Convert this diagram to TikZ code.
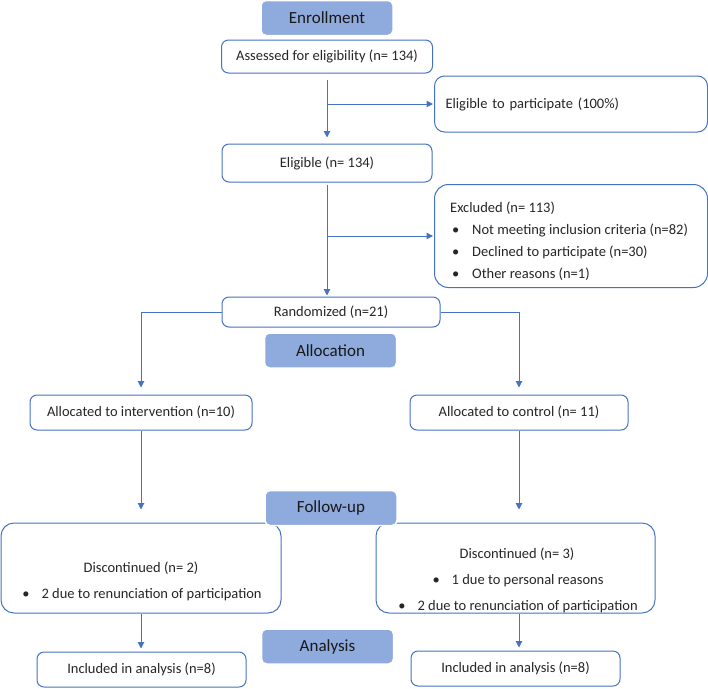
\documentclass[tikz,border=0pt]{standalone}
\usepackage{fontspec}
\setmainfont{Carlito}
\usetikzlibrary{arrows.meta,calc}
\definecolor{ln}{HTML}{4472C4}
\definecolor{hd}{HTML}{8FAADC}
\definecolor{tx}{HTML}{262626}
\begin{document}
\begin{tikzpicture}[x=1pt,y=-1pt,
  box/.style={draw=ln, line width=1pt, rounded corners=7pt, fill=white, text=tx,
    font=\fontsize{14.5}{22}\selectfont, inner sep=0pt},
  txt/.style={text=tx, font=\fontsize{14.5}{22}\selectfont, inner sep=0pt},
  head/.style={fill=hd, draw=white, line width=1.5pt, rounded corners=5pt, text=black!90,
    font=\fontsize{17}{20}\selectfont, minimum width=132pt, minimum height=35pt, inner sep=0pt},
  arr/.style={draw=ln, line width=1pt, -{Triangle[width=6.5pt,length=6.5pt]}}]
\useasboundingbox (0,0) rectangle (708,688);
% enrollment
\node[head] (enr) at (327,18) {Enrollment};
\node[box, minimum width=211pt, minimum height=33pt] (ass) at (327,56.5) {Assessed for eligibility (n= 134)};
\node[box, anchor=west, minimum height=56pt, text width=251pt, inner xsep=11pt, align=left, rounded corners=10pt] (elp) at (434,104) {Eligible to participate (100\%)};
\node[box, minimum width=210pt, minimum height=38pt] (elg) at (327,163) {Eligible (n= 134)};
\node[box, anchor=north west, minimum width=273pt, minimum height=103pt, rounded corners=14pt] (exc) at (434,184) {};
\node[txt, anchor=west, align=left] (exct) at ($(exc.west)+(16,5)$) {Excluded (n= 113)\\
  \makebox[22pt][l]{\hspace{2pt}•}Not meeting inclusion criteria (n=82)\\
  \makebox[22pt][l]{\hspace{2pt}•}Declined to participate (n=30)\\
  \makebox[22pt][l]{\hspace{2pt}•}Other reasons (n=1)};
\node[box, minimum width=218pt, minimum height=30pt] (rand) at (331,312) {Randomized (n=21)};
% allocation
\node[head] (alloc) at (330.5,350.5) {Allocation};
\node[box, minimum width=222pt, minimum height=35pt] (int) at (141,412.5) {Allocated to intervention (n=10)};
\node[box, minimum width=218pt, minimum height=35pt] (ctl) at (519,412.5) {Allocated to control (n= 11)};
% follow-up
\node[box, minimum width=280pt, minimum height=90pt, rounded corners=13pt] (discL) at (141,568) {};
\node[box, minimum width=279pt, minimum height=90pt, rounded corners=13pt] (discR) at (515.5,568) {};
\node[txt] (dl1) at (141,568) {Discontinued (n= 2)};
\node[txt] (dl2) at (142,595) {•\hspace{12pt}2 due to renunciation of participation};
\node[txt] (dr1) at (517,554) {Discontinued (n= 3)};
\node[txt] (dr2) at (518,581) {•\hspace{12pt}1 due to personal reasons};
\node[txt] (dr3) at (518,607) {•\hspace{12pt}2 due to renunciation of participation};
\node[head] (fol) at (331,508) {Follow-up};
% analysis
\node[box, minimum width=209pt, minimum height=35pt] (incL) at (141.5,669.5) {Included in analysis (n=8)};
\node[box, minimum width=209pt, minimum height=35pt] (incR) at (515.5,668.5) {Included in analysis (n=8)};
\node[head] (ana) at (327.5,646.5) {Analysis};
% connectors
\draw[arr, shorten <=6pt, shorten >=6pt] (ass.south) -- (elg.north);
\draw[arr, shorten >=1pt] (ass.south |- elp.west) -- (elp.west);
\draw[arr, shorten <=2pt, shorten >=1pt] (elg.south) -- (elg.south |- rand.north);
\draw[arr, shorten >=1pt] (elg.south |- exc.west) -- (exc.west);
\draw[arr, shorten >=7pt] (rand.west) -| (int.north);
\draw[arr, shorten >=7pt] (rand.east) -| (ctl.north);
\draw[arr, shorten >=13pt] (int.south) -- (int.south |- discL.north);
\draw[arr, shorten >=13pt] (ctl.south) -- (ctl.south |- discR.north);
\draw[arr, shorten >=3pt] (int.south |- discL.south) -- (int.south |- incL.north);
\draw[arr, shorten >=3pt] (ctl.south |- discR.south) -- (ctl.south |- incR.north);
\end{tikzpicture}
\end{document}
